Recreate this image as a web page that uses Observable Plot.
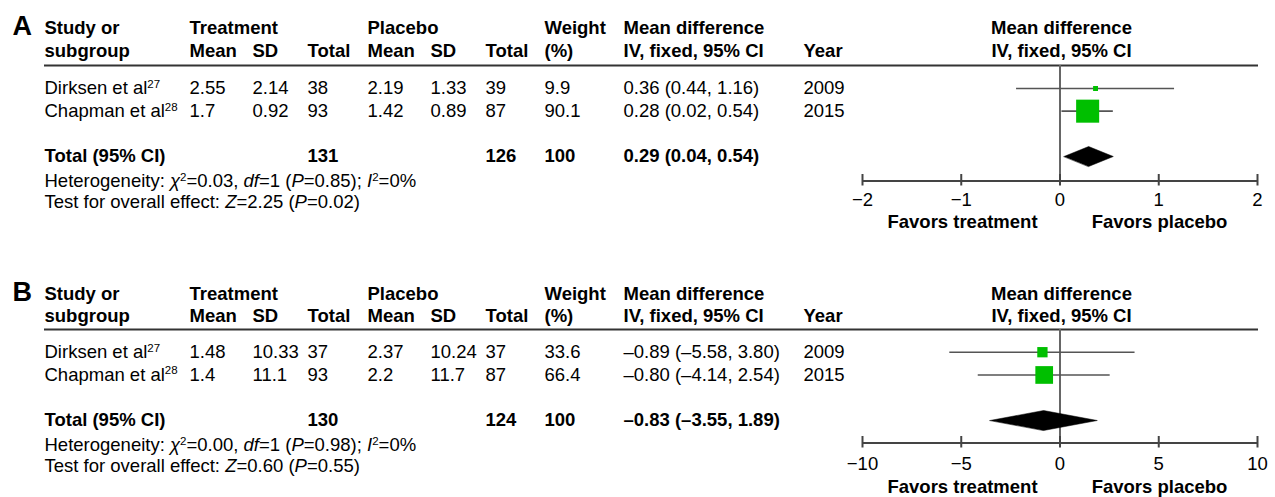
<!DOCTYPE html>
<html>
<head>
<meta charset="utf-8">
<script src="https://cdn.jsdelivr.net/npm/d3@7"></script>
<script src="https://cdn.jsdelivr.net/npm/@observablehq/plot@0.6"></script>
<style>
  html, body { margin: 0; padding: 0; background: #fff; }
  #chart { width: 1275px; }
  #chart svg { display: block; }
</style>
</head>
<body>
<div id="chart"></div>
<script>
// ---------- Data ----------
const studies = ["Dirksen et al", "Chapman et al"];
const refs = ["27", "28"];
const years = ["2009", "2015"];

const headTop = ["Study or", "Treatment", "Placebo", "Weight", "Mean difference"];
const headBottom = ["subgroup", "Mean", "SD", "Total", "Mean", "SD", "Total", "(%)", "IV, fixed, 95% CI", "Year"];
const forestHead = ["Mean difference", "IV, fixed, 95% CI"];
const favorsLabels = ["Favors treatment", "Favors placebo"];
const totalLabel = "Total (95% CI)";

// Panel A
const aTreatMean = ["2.55", "1.7"];
const aTreatSD = ["2.14", "0.92"];
const aTreatN = [38, 93];
const aPlacMean = ["2.19", "1.42"];
const aPlacSD = ["1.33", "0.89"];
const aPlacN = [39, 87];
const aWeight = [9.9, 90.1];
const aMD = [0.36, 0.28];
const aLo = [-0.44, 0.02];
const aHi = [1.16, 0.54];
const aCIText = ["0.36 (0.44, 1.16)", "0.28 (0.02, 0.54)"];
const aTotalN = [131, 126];
const aTotalWeight = 100;
const aTotalMD = [0.29, 0.04, 0.54];
const aTotalText = "0.29 (0.04, 0.54)";
const aHet = "Heterogeneity: *χ*^{2}=0.03, *df*=1 (*P*=0.85); *I*^{2}=0%";
const aTest = "Test for overall effect: *Z*=2.25 (*P*=0.02)";
const aDomain = [-2, 2];
const aTicks = [-2, -1, 0, 1, 2];

// Panel B
const bTreatMean = ["1.48", "1.4"];
const bTreatSD = ["10.33", "11.1"];
const bTreatN = [37, 93];
const bPlacMean = ["2.37", "2.2"];
const bPlacSD = ["10.24", "11.7"];
const bPlacN = [37, 87];
const bWeight = [33.6, 66.4];
const bMD = [-0.89, -0.80];
const bLo = [-5.58, -4.14];
const bHi = [3.80, 2.54];
const bCIText = ["–0.89 (–5.58, 3.80)", "–0.80 (–4.14, 2.54)"];
const bTotalN = [130, 124];
const bTotalWeight = 100;
const bTotalMD = [-0.83, -3.55, 1.89];
const bTotalText = "–0.83 (–3.55, 1.89)";
const bHet = "Heterogeneity: *χ*^{2}=0.00, *df*=1 (*P*=0.98); *I*^{2}=0%";
const bTest = "Test for overall effect: *Z*=0.60 (*P*=0.55)";
const bDomain = [-10, 10];
const bTicks = [-10, -5, 0, 5, 10];

// ---------- Layout ----------
const FONT = '"Liberation Sans", Arial, Helvetica, sans-serif';
const W = 1275;
const ML = 44, MR = 17;
const colX = [44, 189, 252, 307, 367, 430, 485, 544, 623, 803];
const headTopX = [44, 189, 367, 544, 623];
const forestRange = [862, 1257];
const forestCenter = 1061;
const favorsX = [962, 1159];
const GREEN = "#00bf00";

const layoutA = {H: 264, h1: 33, h2: 56, sep: 65, r0: 88, tot: 156, het: 181, test: 201.5, axis: 180.5, tickLbl: 200, favors: 222};
const layoutB = {H: 233, h1: 35, h2: 57.5, sep: 65, r0: 87.7, tot: 156, het: 181, test: 201.5, axis: 178.5, tickLbl: 200, favors: 223};

const fmtTick = d => d < 0 ? "\u2212" + Math.abs(d) : String(d);

function panel(p) {
  const L = p.L;
  const step = (L.tot - L.r0) / 3;
  const row = px => (px - L.r0) / step;
  const rows = studies.map((s, i) => ({
    i,
    cells: [s + "^{" + refs[i] + "}", p.tMean[i], p.tSD[i], String(p.tN[i]), p.pMean[i], p.pSD[i], String(p.pN[i]), String(p.w[i]), p.ci[i], years[i]],
    md: p.md[i], lo: p.lo[i], hi: p.hi[i], w: p.w[i]
  }));
  const totalCells = [[0, totalLabel], [3, String(p.totN[0])], [6, String(p.totN[1])], [7, String(p.totW)], [8, p.totText]];
  const h = 10 / step;
  const diamond = [
    {x: p.tot[1], y: 3}, {x: p.tot[0], y: 3 - h}, {x: p.tot[2], y: 3}, {x: p.tot[0], y: 3 + h}
  ];
  const txt = (arr, y, dxPx, opts = {}) =>
    Plot.text(arr, {y: () => y, text: d => d, frameAnchor: "left", dx: dxPx - ML, textAnchor: "start", lineAnchor: "middle", fill: "#000", ...opts});

  const marks = [
    Plot.ruleY([row(L.sep)], {stroke: "#333", strokeWidth: 2}),
    Plot.ruleX([0], {y1: row(L.sep), y2: row(L.axis), stroke: "#666", strokeWidth: 2}),
    Plot.ruleY([row(L.axis)], {x1: p.domain[0], x2: p.domain[1], stroke: "#444", strokeWidth: 2}),
    Plot.ruleX(p.ticks, {x: d => d, y1: row(L.axis - 6.5), y2: row(L.axis + 5), stroke: "#444", strokeWidth: 2}),
    Plot.text(p.ticks, {x: d => d, y: () => row(L.tickLbl), text: fmtTick, lineAnchor: "middle", fill: "#000"}),
    Plot.ruleY(rows, {y: "i", x1: "lo", x2: "hi", stroke: "#555", strokeWidth: 1.6}),
    Plot.line(diamond, {x: "x", y: "y", curve: "linear-closed", fill: "#000", stroke: "#000", strokeWidth: 0.5}),
    Plot.dot(rows, {x: "md", y: "i", r: "w", symbol: "square", fill: GREEN, stroke: null}),
    ...colX.map((cx, c) => Plot.text(rows, {y: "i", text: d => d.cells[c], frameAnchor: "left", dx: cx - ML, textAnchor: "start", lineAnchor: "middle", fill: "#000"})),
    ...totalCells.map(([c, t]) => txt([t], 3, colX[c], {fontWeight: "bold"})),
    txt([p.letter], row(L.h1 + 1), 12, {fontWeight: "bold", fontSize: 27, lineAnchor: "bottom"}),
    ...headTop.map((t, k) => txt([t], row(L.h1), headTopX[k], {fontWeight: "bold", lineAnchor: "bottom"})),
    ...headBottom.map((t, k) => txt([t], row(L.h2), colX[k], {fontWeight: "bold", lineAnchor: "bottom"})),
    txt([forestHead[0]], row(L.h1), forestCenter, {fontWeight: "bold", lineAnchor: "bottom", textAnchor: "middle"}),
    txt([forestHead[1]], row(L.h2), forestCenter, {fontWeight: "bold", lineAnchor: "bottom", textAnchor: "middle"}),
    txt([p.het], row(L.het), colX[0]),
    txt([p.test], row(L.test), colX[0]),
    ...favorsLabels.map((t, k) => txt([t], row(L.favors), favorsX[k], {fontWeight: "bold", textAnchor: "middle"}))
  ];

  const svg = Plot.plot({
    width: W,
    height: L.H,
    marginLeft: ML, marginRight: MR, marginTop: 0, marginBottom: 0,
    x: {type: "linear", domain: p.domain, range: forestRange, axis: null},
    y: {type: "linear", domain: [0, 3], range: [L.r0, L.tot], axis: null},
    r: {type: "linear", domain: [0, 100], range: [1.54, 14.26]},
    style: {fontFamily: FONT, fontSize: "18.5px", color: "#000", background: "#fff", overflow: "visible"},
    marks
  });
  richify(svg);
  return svg;
}

// Convert *italic* and ^{sup} markers into tspans (keeps text as real text)
function richify(svg) {
  const NS = "http://www.w3.org/2000/svg";
  svg.querySelectorAll("text").forEach(t => {
    const s = t.textContent;
    if (!/[\^*]/.test(s)) return;
    const re = /\*([^*]+)\*|\^\{([^}]+)\}|([^*^]+)/g;
    const parts = [];
    let m;
    while ((m = re.exec(s))) {
      if (m[1] !== undefined) parts.push({t: m[1], it: true});
      else if (m[2] !== undefined) parts.push({t: m[2], sup: true});
      else parts.push({t: m[3]});
    }
    t.textContent = "";
    t.setAttribute("xml:space", "preserve");
    let shifted = false;
    for (const p of parts) {
      const ts = document.createElementNS(NS, "tspan");
      ts.textContent = p.t;
      if (p.it) ts.setAttribute("font-style", "italic");
      if (p.sup) {
        ts.setAttribute("font-size", "11.5px");
        ts.setAttribute("dy", "-6.5");
        shifted = true;
      } else if (shifted) {
        ts.setAttribute("dy", "6.5");
        shifted = false;
      }
      t.appendChild(ts);
    }
  });
}

const chart = document.getElementById("chart");
chart.appendChild(panel({
  letter: "A", L: layoutA, domain: aDomain, ticks: aTicks,
  tMean: aTreatMean, tSD: aTreatSD, tN: aTreatN, pMean: aPlacMean, pSD: aPlacSD, pN: aPlacN,
  w: aWeight, md: aMD, lo: aLo, hi: aHi, ci: aCIText,
  totN: aTotalN, totW: aTotalWeight, tot: aTotalMD, totText: aTotalText, het: aHet, test: aTest
}));
chart.appendChild(panel({
  letter: "B", L: layoutB, domain: bDomain, ticks: bTicks,
  tMean: bTreatMean, tSD: bTreatSD, tN: bTreatN, pMean: bPlacMean, pSD: bPlacSD, pN: bPlacN,
  w: bWeight, md: bMD, lo: bLo, hi: bHi, ci: bCIText,
  totN: bTotalN, totW: bTotalWeight, tot: bTotalMD, totText: bTotalText, het: bHet, test: bTest
}));
</script>
</body>
</html>
